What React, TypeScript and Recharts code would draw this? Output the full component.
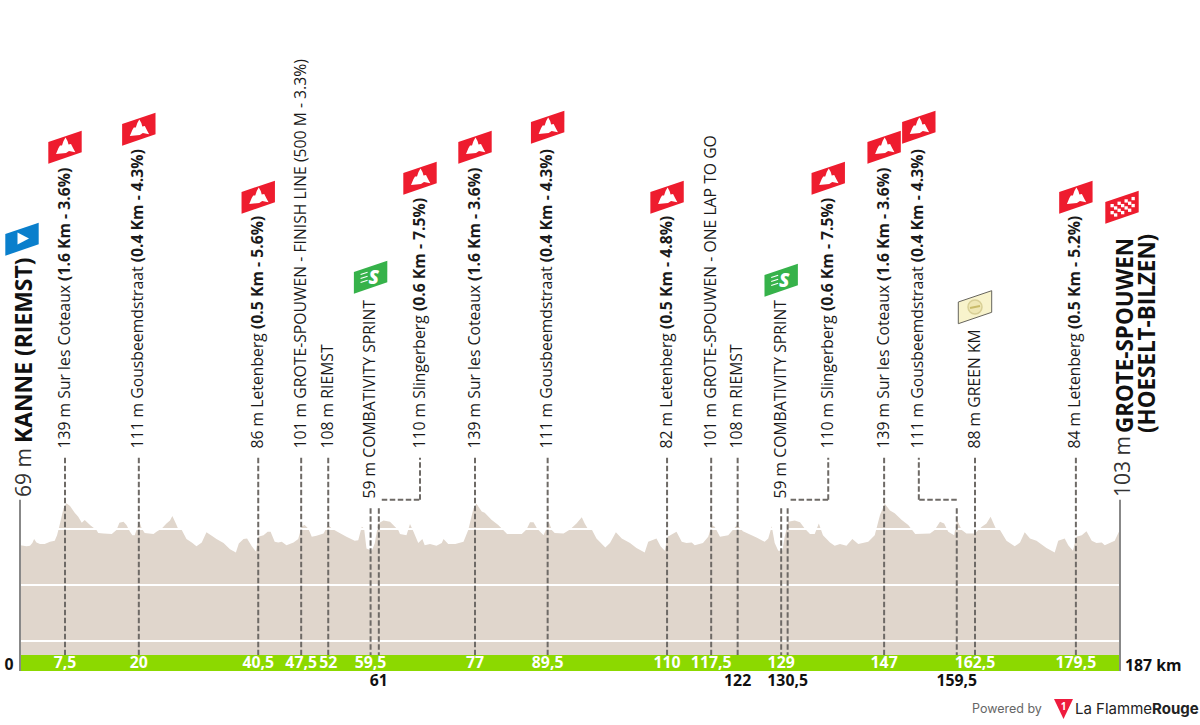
import React from "react"
import {
  ComposedChart,
  Area,
  XAxis,
  YAxis,
  ReferenceArea,
  ReferenceLine,
  ReferenceDot,
} from "recharts"

const FONT = '"Open Sans", sans-serif'

// profile: km, then metres
const profileKm = [
  0, 0.6, 1.1, 1.7, 2.1, 2.4, 2.8, 3.4, 4.2, 5.1, 5.9, 6.3, 6.8, 7.4, 7.9, 8.5, 9.3, 9.9, 10.5, 11, 12, 13, 13.3, 14.2, 15.6,
  16.4, 16.9, 17.6, 18.1, 18.7, 19.1, 19.5, 19.8, 20.3, 20.7, 21.2, 22.7, 23.2, 24.1, 24.9, 25.5, 25.9, 26.5, 26.9, 27.5,
  28.3, 29.2, 30, 30.9, 31.7, 32.6, 33.4, 34.6, 35.7, 36.7, 37.2, 38, 38.6, 39.4, 40.1, 40.5, 41.4, 42.1, 42.6, 43.3, 43.9,
  44.5, 45.3, 46.5, 47.3, 47.9, 48.4, 49, 49.6, 50.4, 51.6, 52.4, 53, 53.8, 55.5, 56.9, 57.5, 58.1, 58.5, 58.9, 59.8, 60.3,
  60.9, 61.8, 62.9, 64.3, 64.6, 65.7, 66.3, 66.9, 67.7, 68.4, 68.8, 69.7, 70.8, 71.7, 72, 72.8, 74, 75.4, 76.2, 77.1, 77.6,
  78.5, 79, 80.2, 81.3, 81.9, 82.8, 85.3, 86.1, 86.7, 87.3, 87.9, 89, 89.5, 89.9, 90.4, 90.9, 92.4, 93.5, 94.6, 95.5, 96,
  96.6, 97.2, 98, 99.5, 100.3, 101.3, 102.3, 103.7, 104.8, 106.2, 106.8, 108.2, 108.9, 109.6, 110.1, 111.6, 112.5, 113.3,
  114.2, 114.7, 116.1, 117, 117.6, 118.1, 119, 120.4, 121.9, 122.9, 125.2, 126.6, 127.2, 127.8, 128.3, 128.9, 129.6, 130,
  130.6, 131.7, 132.6, 133.4, 134.3, 135.1, 135.8, 136.5, 137.7, 138.5, 139.4, 140.5, 141.5, 142.5, 144.2, 145.3, 146.2,
  147, 147.9, 148.7, 149.9, 151, 152.2, 154.7, 155.5, 156.4, 157.1, 157.8, 158.8, 159.3, 160.1, 160.9, 162.3, 163.5, 164.3,
  165, 166, 166.6, 167.7, 169.1, 170, 170.8, 171.7, 172.8, 174.5, 175.9, 176.5, 177.6, 178.2, 179, 179.6, 180.5, 181.3,
  182.2, 183, 183.9, 184.4, 186.1, 187,
]
const profileEle = [
  71, 70, 69, 70, 75, 82, 76, 73, 73, 77, 79, 89, 110, 137, 146, 141, 129, 122, 111, 116, 106, 98, 93, 92, 91,
  98, 111, 113, 107, 95, 89, 89, 98, 113, 101, 93, 91, 95, 101, 110, 115, 123, 110, 100, 98,
  82, 76, 69, 76, 94, 88, 82, 75, 64, 58, 74, 82, 83, 69, 60, 86, 89, 95, 95, 77, 76,
  77, 71, 76, 82, 105, 107, 101, 86, 88, 92, 107, 101, 96, 86, 79, 80, 104, 101, 65, 61, 74,
  110, 115, 113, 98, 91, 89, 109, 95, 75, 82, 71, 73, 70, 75, 82, 73, 73, 77, 98, 137, 145,
  131, 129, 116, 107, 101, 91, 91, 99, 112, 112, 101, 89, 101, 113, 98, 93, 92, 99, 110, 121, 110,
  99, 99, 83, 67, 75, 94, 83, 75, 66, 58, 77, 83, 69, 61, 86, 95, 77, 75,
  76, 71, 75, 86, 107, 104, 86, 89, 107, 96, 85, 77, 83, 105, 75, 61, 61, 86,
  113, 115, 112, 101, 91, 91, 110, 89, 76, 70, 73, 70, 82, 73, 77, 89, 125,
  145, 133, 128, 116, 107, 91, 92, 98, 113, 110, 95, 89, 116, 98, 92, 92, 104, 110,
  122, 98, 98, 79, 69, 76, 94, 83, 79, 66, 58, 79, 83, 71, 61, 86, 89, 96,
  79, 75, 76, 71, 79, 99,
]

// where the marks sit on the road scale, and what the picture prints for them
const tickKm = [0, 7.65, 20.2, 40.5, 47.8, 52.4, 59.6, 61, 77.35, 89.7, 110, 117.5, 122, 129.4, 130.5, 146.9, 159.25, 162.35, 179.5, 187]
const tickLabels = ["0", "7,5", "20", "40,5", "47,5", "52", "59,5", "61", "77", "89,5", "110", "117,5", "122", "129", "130,5", "147", "159,5", "162,5", "179,5", "187 km"]
const lowerLabels = ["61", "122", "130,5", "159,5"]
const gridElevations = [100, 0, -100]

type IconKind = "climb" | "sprint" | "green" | "none"

const markerKm = [7.65, 20.2, 40.5, 47.8, 52.4, 59.6, 61, 77.35, 89.7, 110, 117.5, 122, 129.4, 130.5, 146.9, 159.25, 162.35, 179.5]
const markerLabelKm = [7.65, 20.2, 40.5, 47.8, 52.4, 59.6, 68, 77.35, 89.7, 110, 117.5, 122, 129.4, 137.4, 146.9, 152.8, 162.35, 179.5]
const markerNames = [
  "139 m Sur les Coteaux",
  "111 m Gousbeemdstraat",
  "86 m Letenberg",
  "101 m GROTE-SPOUWEN - FINISH LINE (500 M - 3.3%)",
  "108 m RIEMST",
  "59 m COMBATIVITY SPRINT",
  "110 m Slingerberg",
  "139 m Sur les Coteaux",
  "111 m Gousbeemdstraat",
  "82 m Letenberg",
  "101 m GROTE-SPOUWEN - ONE LAP TO GO",
  "108 m RIEMST",
  "59 m COMBATIVITY SPRINT",
  "110 m Slingerberg",
  "139 m Sur les Coteaux",
  "111 m Gousbeemdstraat",
  "88 m GREEN KM",
  "84 m Letenberg",
]
const markerDetails = [
  "(1.6 Km - 3.6%)",
  "(0.4 Km - 4.3%)",
  "(0.5 Km - 5.6%)",
  "",
  "",
  "",
  "(0.6 Km - 7.5%)",
  "(1.6 Km - 3.6%)",
  "(0.4 Km - 4.3%)",
  "(0.5 Km - 4.8%)",
  "",
  "",
  "",
  "(0.6 Km - 7.5%)",
  "(1.6 Km - 3.6%)",
  "(0.4 Km - 4.3%)",
  "",
  "(0.5 Km - 5.2%)",
]
const markerIcons: IconKind[] = [
  "climb", "climb", "climb", "none", "none", "sprint", "climb", "climb", "climb",
  "climb", "none", "none", "sprint", "climb", "climb", "climb", "green", "climb",
]

// layout only, pixels on the page
const iconCentreY = [147, 129, 197, 0, 0, 277, 178, 147, 127, 197, 0, 0, 280, 178, 147, 127, 307, 197]
const LABEL_BOTTOM = 448.5
const SPRINT_LABEL_BOTTOM = 498.5

// dashed line extents, in the chart's metres
const LINE_TOP = 227
const LINE_TOP_SHORT = 137
const ELBOW = 152
const BAND_TOP = -125
const BAND_BOTTOM = -153.6

const profile = profileKm.map((km, i) => ({ km, ele: profileEle[i] }))

const Flag = ({ cx, cy, fill, stroke }: any) => (
  <polygon
    points={`${cx - 16.7},${cy - 5} ${cx + 16.7},${cy - 16.3} ${cx + 16.7},${cy + 5.3} ${cx - 16.7},${cy + 16.7}`}
    fill={fill}
    stroke={stroke}
    strokeWidth={stroke ? 1 : 0}
  />
)

const ClimbIcon = ({ cx, cy }: any) => (
  <g>
    <Flag cx={cx} cy={cy} fill="#ee1c2e" />
    <polygon
      fill="#fff"
      points={`${cx - 9},${cy + 7} ${cx - 6.5},${cy + 1} ${cx - 5},${cy - 1.5} ${cx - 3},${cy - 1.5} ${cx - 1.5},${cy - 6} ${cx + 0.5},${cy - 9.5} ${cx + 2.5},${cy - 6} ${cx + 3.5},${cy - 2.5} ${cx + 6},${cy - 3} ${cx + 8},${cy + 1} ${cx + 10.3},${cy + 5.3} ${cx + 4},${cy + 4} ${cx + 1},${cy + 6}`}
    />
  </g>
)

const SprintIcon = ({ cx, cy }: any) => (
  <g>
    <Flag cx={cx} cy={cy} fill="#36b24a" />
    <text x={cx + 3} y={cy + 7} textAnchor="middle" fontFamily={FONT} fontWeight={800} fontStyle="italic" fontSize={19} fill="#fff">
      S
    </text>
    {[-4, 0, 4].map((d) => (
      <line key={d} x1={cx - 10} y1={cy + d + 1.5} x2={cx - 3} y2={cy + d - 0.8} stroke="#fff" strokeWidth={1.2} />
    ))}
  </g>
)

const GreenIcon = ({ cx, cy }: any) => (
  <g>
    <Flag cx={cx} cy={cy} fill="#f8f3cc" stroke="#66645c" />
    <ellipse cx={cx} cy={cy} rx={7} ry={7} fill="#efe7b4" stroke="#d8cf96" strokeWidth={1.5} />
    <line x1={cx - 5} y1={cy + 1} x2={cx + 5} y2={cy - 1} stroke="#c9bb6a" strokeWidth={2} />
  </g>
)

const CheckerIcon = ({ cx, cy }: any) => {
  const cells = []
  for (let c = 0; c < 7; c++) {
    for (let r = 0; r < 4; r++) {
      if ((c + r) % 2 === 0) {
        const x = cx - 11.5 + c * 3.5
        const y = cy - 6.5 + r * 3.5 - c * 1.18 + 3.5
        cells.push(<rect key={`${c}-${r}`} x={x} y={y} width={3.3} height={3.3} fill="#fff" />)
      }
    }
  }
  return (
    <g>
      <Flag cx={cx} cy={cy} fill="#ee1c2e" />
      {cells}
    </g>
  )
}

const StartIcon = ({ cx, cy }: any) => (
  <g>
    <Flag cx={cx} cy={cy} fill="#0a7fcc" />
    <polygon fill="#fff" points={`${cx - 4.5},${cy - 6.5} ${cx + 7},${cy - 0.5} ${cx - 4.5},${cy + 5.5}`} />
  </g>
)

const RotText = ({ x, y, children, ...rest }: any) => (
  <text transform={`translate(${x},${y}) rotate(-90)`} fontFamily={FONT} {...rest}>
    {children}
  </text>
)

const markerShape = (i: number) => (props: any) => {
  const cx = props.cx
  const kind = markerIcons[i]
  const iconY = iconCentreY[i]
  const bottom = kind === "sprint" ? SPRINT_LABEL_BOTTOM : LABEL_BOTTOM
  return (
    <g>
      <RotText x={cx + 4.5} y={bottom} fontSize={15.75} fill="#1a1a1a">
        {markerNames[i]}{" "}
        <tspan fontWeight={700}>{markerDetails[i]}</tspan>
      </RotText>
      {kind === "climb" && <ClimbIcon cx={cx} cy={iconY} />}
      {kind === "sprint" && <SprintIcon cx={cx} cy={iconY} />}
      {kind === "green" && <GreenIcon cx={cx} cy={iconY} />}
    </g>
  )
}

const startShape = (props: any) => {
  const cx = props.cx
  return (
    <g>
      <RotText x={cx + 11} y={497} fontSize={21} fill="#333">
        69 m
      </RotText>
      <RotText x={cx + 12} y={443} fontSize={22.9} fontWeight={700} fill="#111">
        KANNE (RIEMST)
      </RotText>
      <StartIcon cx={cx + 2} cy={239} />
    </g>
  )
}

const finishShape = (props: any) => {
  const cx = props.cx
  return (
    <g>
      <RotText x={cx + 10} y={497} fontSize={21} fill="#333">
        103 m
      </RotText>
      <RotText x={cx + 13} y={433} fontSize={22.4} fontWeight={700} fill="#111">
        GROTE-SPOUWEN
      </RotText>
      <RotText x={cx + 35} y={433} fontSize={22.4} fontWeight={700} fill="#111">
        (HOESELT-BILZEN)
      </RotText>
      <CheckerIcon cx={cx + 2} cy={207} />
    </g>
  )
}

const KmTick = ({ x, y, payload }: any) => {
  const label = tickLabels[tickKm.indexOf(payload.value)]
  const base = y - 8 // bottom of the green band
  if (label === "0") {
    return <text x={x - 11} y={base - 1} textAnchor="middle" fontFamily={FONT} fontWeight={700} fontSize={15.8} fill="#111">0</text>
  }
  if (label === "187 km") {
    return <text x={x + 5} y={base - 0.5} fontFamily={FONT} fontWeight={700} fontSize={15.8} fill="#111">{label}</text>
  }
  const lower = lowerLabels.includes(label)
  return (
    <text
      x={x}
      y={lower ? base + 15 : base - 3}
      textAnchor="middle"
      fontFamily={FONT}
      fontWeight={700}
      fontSize={15.8}
      fill={lower ? "#111" : "#fff"}
    >
      {label}
    </text>
  )
}

const dashProps = { stroke: "#6e6a66", strokeWidth: 2, strokeDasharray: "5.5 2.5" }

export default function App() {
  return (
    <div style={{ position: "absolute", left: 0, top: 0, width: 1200, height: 725, background: "#fff" }}>
      <ComposedChart
        width={1200}
        height={725}
        data={profile}
        margin={{ top: 0, right: 80, bottom: 0, left: 20 }}
      >
        <XAxis
          dataKey="km"
          type="number"
          domain={[0, 187]}
          ticks={tickKm}
          interval={0}
          height={54}
          axisLine={false}
          tickLine={false}
          tick={<KmTick />}
        />
        <YAxis hide type="number" domain={[BAND_BOTTOM, 1044.6]} />
        <Area
          dataKey="ele"
          type="linear"
          baseValue={BAND_TOP}
          fill="#e0d6cc"
          fillOpacity={1}
          stroke="none"
          isAnimationActive={false}
          dot={false}
          activeDot={false}
        />
        {gridElevations.map((e) => (
          <ReferenceLine key={e} y={e} stroke="#fff" strokeWidth={2} />
        ))}
        <ReferenceArea x1={0} x2={187} y1={BAND_BOTTOM} y2={BAND_TOP} fill="#8cd900" fillOpacity={1} stroke="none" />
        <ReferenceLine
          segment={[{ x: 0, y: 152 }, { x: 0, y: BAND_BOTTOM }]}
          stroke="#888"
          strokeWidth={2}
        />
        <ReferenceLine
          segment={[{ x: 187, y: 152 }, { x: 187, y: BAND_BOTTOM }]}
          stroke="#888"
          strokeWidth={2}
        />
        {markerKm.map((km, i) => {
          const moved = markerLabelKm[i] !== km
          const short = moved || markerIcons[i] === "sprint"
          return (
            <React.Fragment key={i}>
              <ReferenceLine
                segment={[{ x: km, y: short ? LINE_TOP_SHORT : LINE_TOP }, { x: km, y: BAND_TOP }]}
                {...dashProps}
              />
              {moved && (
                <ReferenceLine
                  segment={[
                    { x: markerLabelKm[i] > km ? km + 0.5 : km, y: ELBOW },
                    { x: markerLabelKm[i], y: ELBOW },
                  ]}
                  {...dashProps}
                />
              )}
              {moved && (
                <ReferenceLine
                  segment={[{ x: markerLabelKm[i], y: ELBOW }, { x: markerLabelKm[i], y: LINE_TOP }]}
                  {...dashProps}
                />
              )}
              <ReferenceDot x={markerLabelKm[i]} y={0} r={0} shape={markerShape(i)} />
            </React.Fragment>
          )
        })}
        <ReferenceDot x={0} y={0} r={0} shape={startShape} />
        <ReferenceDot x={187} y={0} r={0} shape={finishShape} />
      </ComposedChart>
      <svg width={240} height={30} style={{ position: "absolute", left: 960, top: 695 }}>
        <text x={12} y={18} fontFamily="Inter, sans-serif" fontSize={12.5} fill="#666">
          Powered by
        </text>
        <polygon points="94,4 113,4 103.5,24" fill="#ee1c3e" />
        <text x={103.5} y={15} textAnchor="middle" fontFamily={FONT} fontWeight={700} fontSize={10} fill="#fff">
          1
        </text>
        <text x={115} y={19} fontFamily="Inter, sans-serif" fontSize={15} fill="#222">
          La Flamme<tspan fontWeight={700}>Rouge</tspan>
        </text>
      </svg>
    </div>
  )
}
